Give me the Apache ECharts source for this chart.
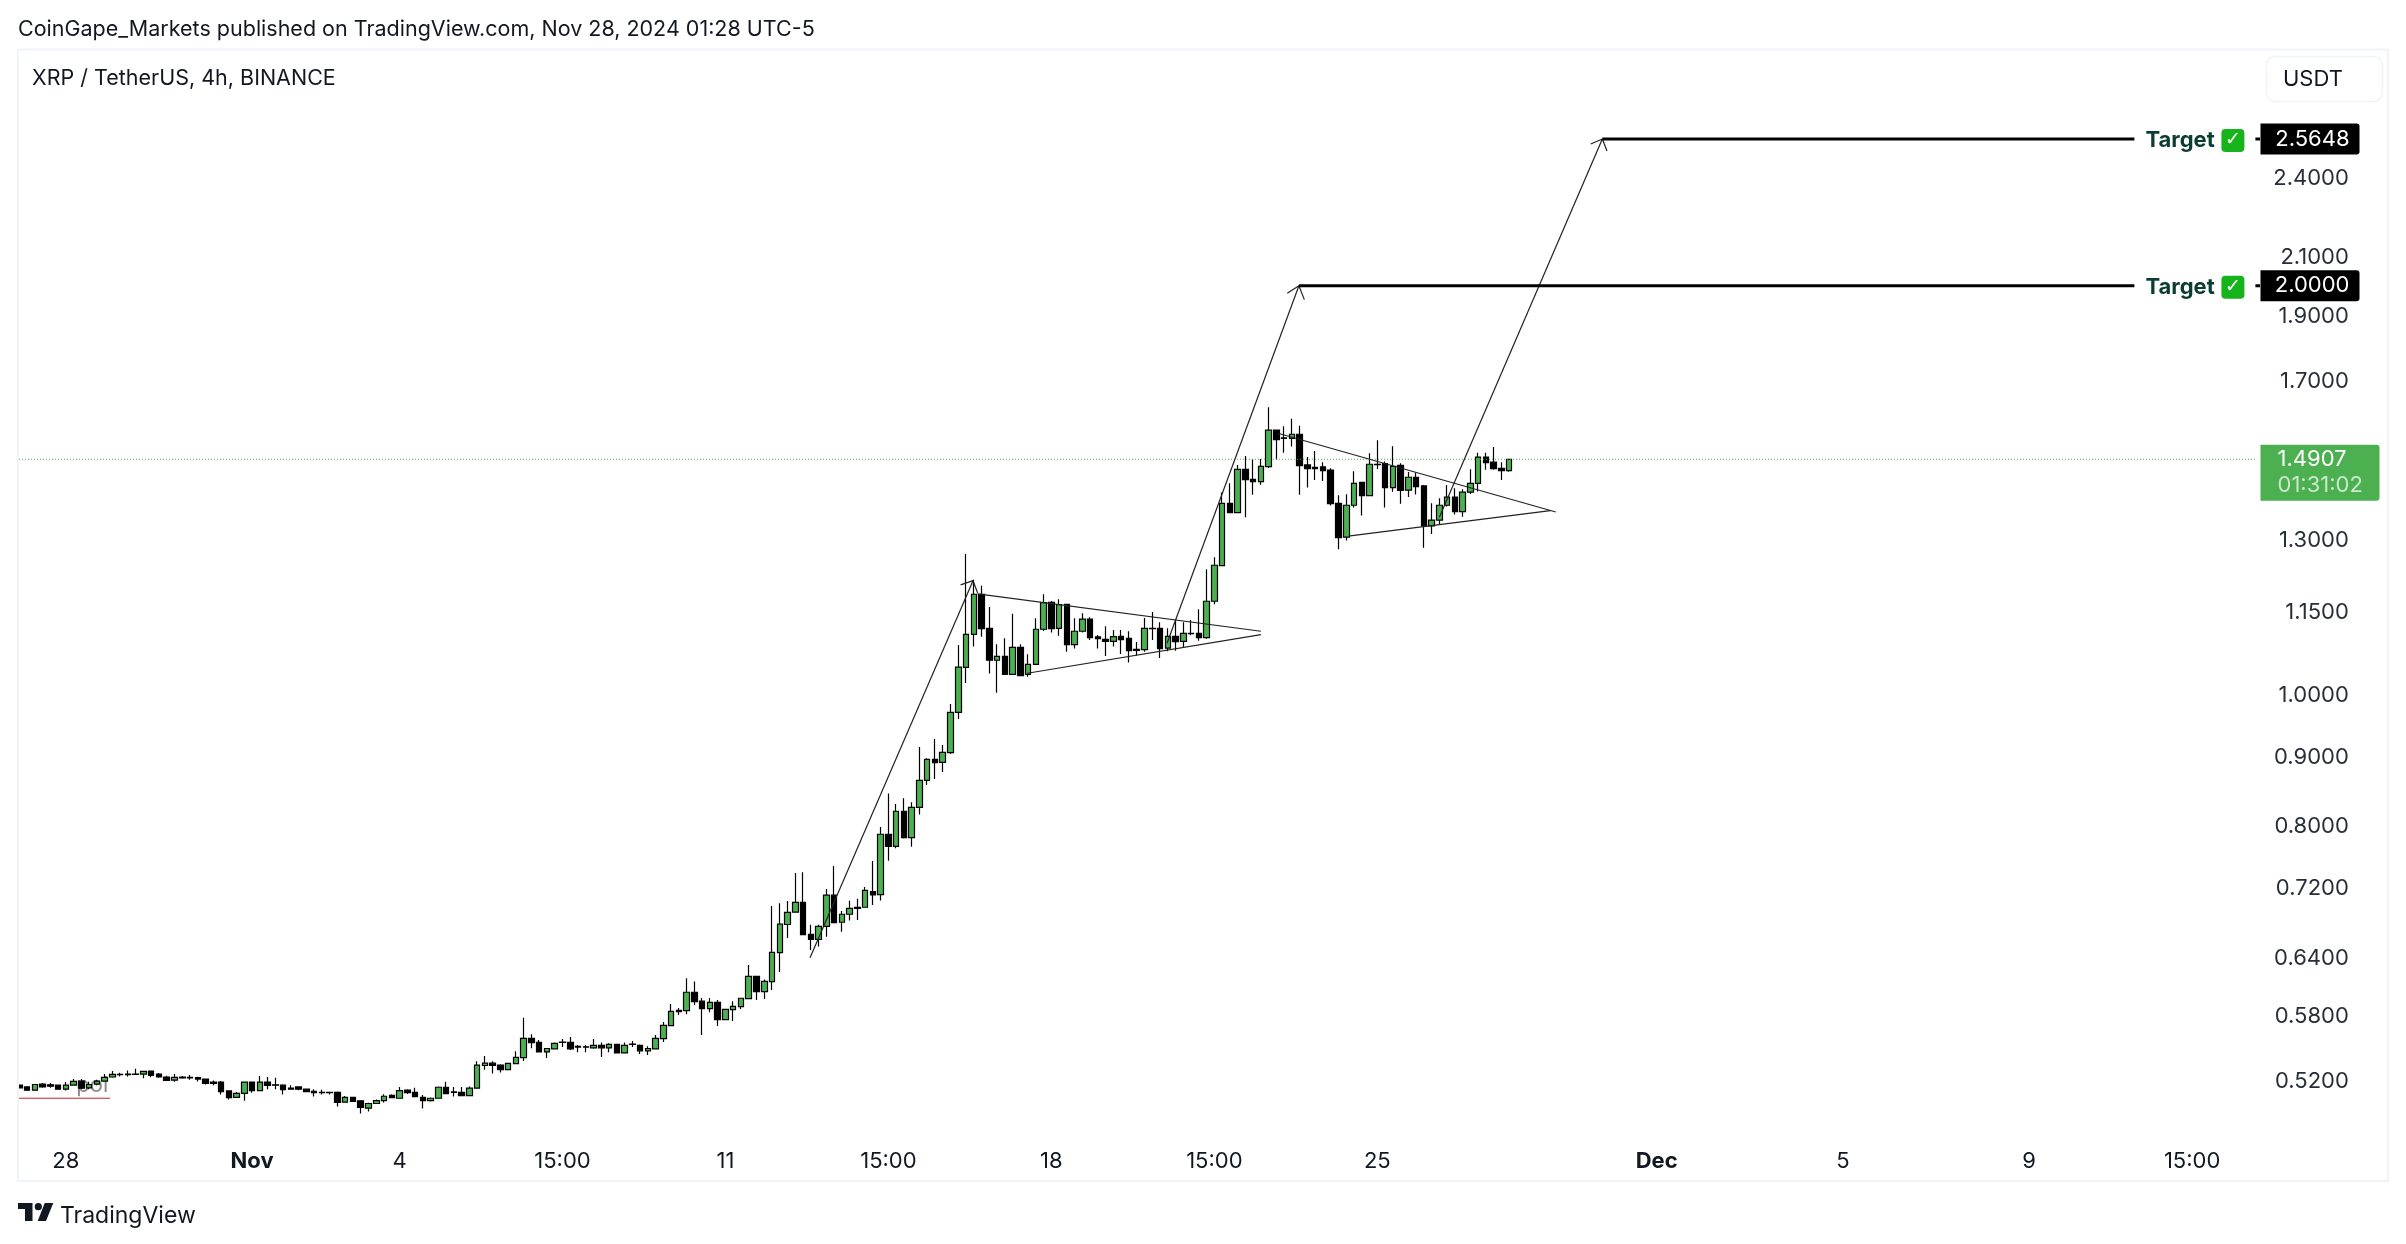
<!DOCTYPE html>
<html>
<head>
<meta charset="utf-8">
<title>XRP / TetherUS</title>
<script src="https://cdn.jsdelivr.net/npm/echarts@6/dist/echarts.min.js"></script>
<style>
  html,body{margin:0;padding:0;background:#fff;}
  #main{width:2406px;height:1244px;}
</style>
</head>
<body>
<div id="main"></div>
<script>
// 4h candles
const opens = [.5163,.5148,.5119,.5172,.5166,.5163,.5128,.5163,.5199,.5140,.5172,.5199,.5235,.5258,.5261,.5261,.5261,.5288,.5261,.5235,.5208,.5235,.5232,.5229,.5217,.5190,.5190,.5113,.5058,.5092,.5190,.5116,.5190,.5166,.5163,.5137,.5148,.5128,.5110,.5101,.5101,.5101,.5016,.5058,.5028,.4966,.5005,.5030,.5075,.5050,.5119,.5101,.5058,.5030,.5050,.5145,.5104,.5101,.5072,.5137,.5338,.5359,.5341,
  .5301,.5355,.5409,.5589,.5551,.5462,.5491,.5554,.5551,.5513,.5510,.5500,.5523,.5500,.5532,.5453,.5535,.5523,.5472,.5491,.5586,.5711,.5860,.5857,.6043,.5952,.5877,.5941,.5769,.5867,.5898,.5979,.6208,.6050,.6152,.6462,.6778,
  .6921,.7038,.6667,.6610,.6757,.7123,.6804,.6897,.6979,.6979,.7168,.7131,.7898,.7738,.8212,.7853,.8267,.8654,.8967,.8920,.9069,.9710,
  1.0479,1.1082,1.1860,1.1195,1.0605,1.0677,1.0356,1.0839,1.0356,1.0533,1.1177,1.1700,1.1195,1.1660,1.0891,1.1139,1.1369,1.1032,1.0988,1.0950,1.1045,1.1006,1.0803,1.0797,1.1195,1.1195,1.0824,1.1045,1.0950,1.1101,1.1101,1.1019,1.1720,
  1.2450,1.3836,1.3621,1.4655,1.4410,1.4353,1.4722,1.5659,1.5455,1.5446,1.5552,1.4765,1.4705,1.4714,1.4638,1.3836,1.3064,1.3790,1.4337,1.4019,1.4782,1.4799,1.4209,1.4756,1.4147,1.4460,1.4248,1.3318,1.3448,1.3790,1.3979,1.3644,1.4100,1.4312,1.4962,1.4833,1.4680,1.4622];
const closes = [.5140,.5119,.5169,.5148,.5154,.5128,.5163,.5196,.5137,.5169,.5199,.5232,.5258,.5255,.5255,.5258,.5285,.5249,.5235,.5205,.5232,.5226,.5226,.5217,.5178,.5178,.5107,.5056,.5092,.5190,.5116,.5190,.5160,.5163,.5125,.5128,.5128,.5107,.5098,.5098,.5098,.5014,.5058,.5022,.4972,.5005,.5030,.5067,.5056,.5116,.5098,.5064,.5030,.5050,.5145,.5089,.5101,.5072,.5137,.5341,.5359,.5338,.5300,
  .5358,.5412,.5589,.5548,.5462,.5494,.5542,.5551,.5491,.5507,.5507,.5523,.5500,.5532,.5453,.5523,.5532,.5472,.5494,.5589,.5714,.5850,.5847,.6043,.5948,.5877,.5941,.5769,.5871,.5901,.5982,.6208,.6050,.6155,.6466,.6782,.6918,
  .7038,.6663,.6610,.6757,.7123,.6800,.6897,.6967,.6967,.7181,.7127,.7898,.7738,.8212,.7853,.8267,.8654,.8967,.8915,.9074,.9710,1.0482,
  1.1082,1.1860,1.1189,1.0605,1.0677,1.0356,1.0839,1.0332,1.0533,1.1177,1.1694,1.1189,1.1654,1.0891,1.1139,1.1369,1.1019,1.1000,1.0950,1.1038,1.0982,1.0779,1.0785,1.1195,1.1189,1.0818,1.1045,1.0944,1.1101,1.1095,1.1019,1.1720,1.2457,
  1.3836,1.3621,1.4655,1.4402,1.4353,1.4731,1.5659,1.5411,1.5446,1.5552,1.4748,1.4672,1.4672,1.4622,1.3828,1.3056,1.3790,1.4312,1.4019,1.4782,1.4773,1.4209,1.4731,1.4139,1.4460,1.4232,1.3318,1.3448,1.3790,1.3979,1.3644,1.4100,1.4312,1.4962,1.4825,1.4672,1.4622,1.4907];
const lows = [.5140,.5119,.5119,.5140,.5140,.5122,.5116,.5157,.5128,.5128,.5163,.5193,.5229,.5240,.5240,.5255,.5223,.5232,.5229,.5202,.5193,.5220,.5211,.5196,.5169,.5163,.5081,.5039,.5053,.5028,.5098,.5113,.5128,.5128,.5081,.5122,.5119,.5104,.5064,.5081,.5081,.4980,.5014,.5019,.4921,.4938,.5002,.5014,.5050,.5047,.5086,.5061,.4963,.5022,.5050,.5086,.5064,.5072,.5072,.5134,.5300,.5267,.5276,
  .5298,.5355,.5379,.5497,.5459,.5406,.5491,.5507,.5479,.5459,.5459,.5491,.5415,.5459,.5450,.5453,.5507,.5443,.5434,.5491,.5554,.5707,.5815,.5823,.5914,.5621,.5843,.5707,.5769,.5756,.5874,.5979,.5965,.5975,.6067,.6254,.6625,
  .6921,.6663,.6492,.6529,.6640,.6792,.6695,.6823,.6831,.6979,.7007,.7059,.7552,.7712,.7840,.7734,.8165,.8585,.8673,.8777,.9048,.9601,
  1.0203,1.0854,1.1038,1.0368,1.0039,1.0350,1.0350,1.0332,1.0315,1.0527,1.1145,1.1114,1.1057,1.0761,1.0818,1.1114,1.0975,1.0818,1.0683,1.0854,1.0719,1.0563,1.0689,1.0761,1.0975,1.0646,1.0767,1.0779,1.0839,1.1063,1.0963,1.1000,1.1660,
  1.2450,1.3621,1.3621,1.3511,1.4035,1.4280,1.4690,1.4895,1.5073,1.5230,1.4035,1.4209,1.4394,1.4369,1.3783,1.2798,1.2990,1.3737,1.3554,1.4019,1.4664,1.3737,1.4108,1.3828,1.3987,1.4043,1.2830,1.3136,1.3349,1.3759,1.3577,1.3525,1.4058,1.4116,1.4647,1.4647,1.4394,1.4597];
const highs = [.5163,.5148,.5169,.5181,.5181,.5169,.5190,.5217,.5217,.5193,.5211,.5261,.5288,.5273,.5294,.5309,.5291,.5288,.5270,.5246,.5261,.5243,.5252,.5237,.5220,.5205,.5199,.5116,.5104,.5190,.5196,.5243,.5235,.5229,.5172,.5163,.5154,.5131,.5128,.5122,.5104,.5107,.5070,.5058,.5033,.5011,.5039,.5084,.5084,.5148,.5128,.5140,.5078,.5056,.5151,.5193,.5148,.5148,.5151,.5377,.5425,.5377,.5350,
  .5358,.5469,.5787,.5627,.5573,.5494,.5551,.5583,.5602,.5526,.5526,.5583,.5551,.5542,.5535,.5551,.5564,.5532,.5516,.5621,.5746,.5925,.5884,.6189,.6155,.5985,.5985,.5965,.5871,.5952,.5982,.6329,.6208,.6176,.6994,.7026,.7054,
  .7397,.7406,.6774,.6774,.7199,.7485,.6936,.7055,.7079,.7223,.7548,.7996,.8464,.8313,.8393,.8337,.9157,.8982,.9282,.9188,.9848,1.0883,
  1.2698,1.2154,1.2031,1.1605,1.0897,1.1006,1.1475,1.0897,1.0713,1.1388,1.1860,1.1726,1.1760,1.1660,1.1388,1.1483,1.1407,1.1070,1.1233,1.1164,1.1164,1.1139,1.0937,1.1394,1.1507,1.1309,1.1195,1.1356,1.1309,1.1356,1.1562,1.2373,1.2625,
  1.4090,1.4312,1.4765,1.4992,1.4913,1.4913,1.6281,1.5659,1.5767,1.5965,1.5776,1.4962,1.5120,1.4833,1.4680,1.4027,1.4050,1.4605,1.4337,1.5057,1.5395,1.4850,1.5238,1.4807,1.4588,1.4572,1.4272,1.3836,1.3952,1.4272,1.4193,1.4170,1.4655,1.5073,1.5073,1.5221,1.4833,1.4913];

// axis labels
const priceTicks = [2.4, 2.1, 1.9, 1.7, 1.3, 1.15, 1, 0.9, 0.8, 0.72, 0.64, 0.58, 0.52];
const timeLabels = ['28', 'Nov', '4', '15:00', '11', '15:00', '18', '15:00', '25', 'Dec', '5', '9', '15:00'];
const timeSlots = [6, 30, 49, 70, 91, 112, 133, 154, 175, 211, 235, 259, 280];

const lastPrice = 1.4907;
const countdown = '01:31:02';
const target1 = 2.5648;
const target2 = 2.0;

// drawings, as [candle index, price]
const arrow1 = [[101.9, .6408], [122.9, 1.2136]];
const arrow1Head = [[121.3, 1.2049], [122.9, 1.2136], [123.5, 1.1886]];
const arrow2 = [[147.9, 1.0915], [164.9, 2.0]];
const arrow2Head = [[163.4, 1.9749], [164.9, 2.0], [165.6, 1.9536]];
const arrow3 = [[183.0, 1.3513], [204.0, 2.5648]];
const arrow3Head = [[202.5, 2.5432], [204.0, 2.5648], [204.6, 2.5132]];
const flag1Top = [[123.5, 1.1866], [160.0, 1.1139]];
const flag1Bottom = [[129.9, 1.0374], [160.0, 1.1075]];
const flag2Top = [[162.2, 1.5579], [198.0, 1.3634]];
const flag2Bottom = [[171.5, 1.3091], [197.3, 1.3664]];
const redLine = [[-0.5, .5050], [11.7, .5050]];

const slotCount = 290;
const axisSlot = 288.75; // where the price tags start
const font = 'Inter, "Noto Sans", sans-serif';

let categories = [];
for (let i = 0; i < slotCount; i++) {
  let k = timeSlots.indexOf(i);
  categories.push(k >= 0 ? timeLabels[k] : String(i));
}
let candles = opens.map((o, i) => [o, closes[i], lows[i], highs[i]]);

function drawn(points, color, width, type) {
  return {
    type: 'line', xAxisIndex: 1, data: points, symbol: 'none', silent: true, z: 5, clip: false,
    lineStyle: {color: color, width: width, type: type || 'solid'}
  };
}
function tag(price, label) {
  return {
    type: 'scatter', xAxisIndex: 1, data: [[axisSlot, price]], symbolSize: 1, silent: true, z: 8,
    itemStyle: {color: 'transparent', opacity: 1},
    label: Object.assign({show: true, position: 'right', distance: 0, fontFamily: font}, label)
  };
}
function priceTag(price) {
  return tag(price, {
    formatter: '{v|' + price.toFixed(4) + '}', backgroundColor: '#000',
    width: 89, height: 31, lineHeight: 31, padding: [0, 10, 0, 0], borderRadius: [0, 3, 3, 0],
    rich: {v: {fontFamily: font, fontSize: 22, color: '#fff', align: 'right', lineHeight: 31}}
  });
}
function targetText(price) {
  return {
    type: 'scatter', xAxisIndex: 1, data: [[272.5, price]], symbolSize: 1, silent: true, z: 7,
    itemStyle: {color: 'transparent', opacity: 1},
    label: {
      show: true, position: 'right', distance: 0, offset: [0, 1.5], backgroundColor: '#fff', padding: [2, 11, 2, 11],
      formatter: '{t|Target}  {c|✓}',
      rich: {
        t: {fontFamily: font, fontSize: 22, fontWeight: 'bold', color: '#0b3d33'},
        c: {fontFamily: '"DejaVu Sans"', fontSize: 19, fontWeight: 'bold', color: '#fff', backgroundColor: '#16b31a',
          width: 23, height: 23, lineHeight: 23, align: 'center', borderRadius: 4}
      }
    }
  };
}

const option = {
  animation: false,
  backgroundColor: '#fff',
  grid: {left: 15.42, top: 50, width: 2250.4, height: 1090, containLabel: false},
  xAxis: [
    {
      type: 'category', data: categories, boundaryGap: true,
      axisLine: {show: false}, axisTick: {show: false}, splitLine: {show: false},
      axisLabel: {
        interval: (i) => timeSlots.includes(i), margin: 10, hideOverlap: false,
        fontFamily: font, fontSize: 22, color: '#131722',
        formatter: (v) => (v === 'Nov' || v === 'Dec') ? '{b|' + v + '}' : v,
        rich: {b: {fontFamily: font, fontSize: 22, fontWeight: 'bold', color: '#131722'}}
      }
    },
    {type: 'value', show: false, min: -0.5, max: slotCount - 0.5}
  ],
  yAxis: {
    type: 'log', position: 'right', min: 0.4705, max: 2.982,
    axisLine: {show: false}, axisTick: {show: false}, splitLine: {show: false},
    axisLabel: {
      customValues: priceTicks, align: 'right', margin: 83, padding: [6, 0, 0, 0],
      fontFamily: font, fontSize: 22, color: '#2a2e39',
      formatter: (v) => Number(v).toFixed(4)
    }
  },
  series: [
    {
      type: 'scatter', xAxisIndex: 1, data: [[9.4, .5165]], symbolSize: 1, silent: true, z: 1,
      itemStyle: {color: 'transparent', opacity: 1},
      label: {show: true, position: 'inside', formatter: 'pol', fontFamily: font, fontSize: 22, color: '#8a8a8a'}
    },
    drawn([[-0.0387, lastPrice], [288.4, lastPrice]], '#4caf50', 1, [1, 2]),
    {
      type: 'candlestick', data: candles, barWidth: 6, z: 3, silent: true,
      itemStyle: {color: '#4caf50', color0: '#000', borderColor: '#000', borderColor0: '#000', borderColorDoji: '#000', borderWidth: 1.2}
    },
    drawn(arrow1, '#222', 1.2), drawn(arrow1Head, '#222', 1.2),
    drawn(arrow2, '#222', 1.2), drawn(arrow2Head, '#222', 1.2),
    drawn(arrow3, '#222', 1.2), drawn(arrow3Head, '#222', 1.2),
    drawn(flag1Top, '#222', 1.2), drawn(flag1Bottom, '#222', 1.2),
    drawn(flag2Top, '#222', 1.2), drawn(flag2Bottom, '#222', 1.2),
    drawn(redLine, '#c2202f', 1),
    drawn([[204.0, target1], [axisSlot, target1]], '#000', 3),
    drawn([[164.9, target2], [axisSlot, target2]], '#000', 3),
    targetText(target1), targetText(target2),
    priceTag(target1), priceTag(target2),
    tag(lastPrice, {
      formatter: '{p|' + lastPrice.toFixed(4) + '}\n{c|' + countdown + '}', offset: [0, 13.5],
      backgroundColor: '#4caf50', width: 102, height: 54, padding: [2, 0, 0, 17], borderRadius: [0, 3, 3, 0],
      rich: {
        p: {fontFamily: font, fontSize: 22, color: '#fff', lineHeight: 26},
        c: {fontFamily: font, fontSize: 22, color: 'rgba(255,255,255,0.7)', lineHeight: 26}
      }
    })
  ],
  graphic: [
    {type: 'rect', z: 50, shape: {x: 0, y: 49, width: 18, height: 1133}, style: {fill: '#fff'}},
    {type: 'rect', z: 51, shape: {x: 18, y: 49.5, width: 2370, height: 1131.5}, style: {fill: 'none', stroke: '#f0f3fa', lineWidth: 2}},
    {type: 'rect', z: 51, shape: {x: 2266.5, y: 56.5, width: 116, height: 45, r: 9}, style: {fill: '#fff', stroke: '#f0f3fa', lineWidth: 1.5}},
    {type: 'text', z: 52, x: 2283, y: 79, style: {text: 'USDT', font: '22px ' + font, fill: '#131722', textVerticalAlign: 'middle'}},
    {type: 'text', z: 52, x: 18, y: 30, style: {text: 'CoinGape_Markets published on TradingView.com, Nov 28, 2024 01:28 UTC-5', font: '21.5px ' + font, fill: '#131722', textVerticalAlign: 'middle'}},
    {type: 'text', z: 52, x: 32, y: 79, style: {text: 'XRP / TetherUS, 4h, BINANCE', font: '21.5px ' + font, fill: '#131722', textVerticalAlign: 'middle'}},
    {type: 'text', z: 52, x: 60, y: 1216, style: {text: 'TradingView', font: '23px ' + font, fill: '#131722', textVerticalAlign: 'middle'}},
    // logo
    {type: 'polygon', z: 52, shape: {points: [[18, 1203], [32.5, 1203], [32.5, 1221], [25, 1221], [25, 1209], [18, 1209]]}, style: {fill: '#131722'}},
    {type: 'circle', z: 52, shape: {cx: 38.3, cy: 1206.7, r: 3.6}, style: {fill: '#131722'}},
    {type: 'polygon', z: 52, shape: {points: [[44.7, 1203], [53.3, 1203], [46, 1221], [37.7, 1221]]}, style: {fill: '#131722'}}
  ]
};

let chart = echarts.init(document.getElementById('main'));
chart.setOption(option);
</script>
</body>
</html>
